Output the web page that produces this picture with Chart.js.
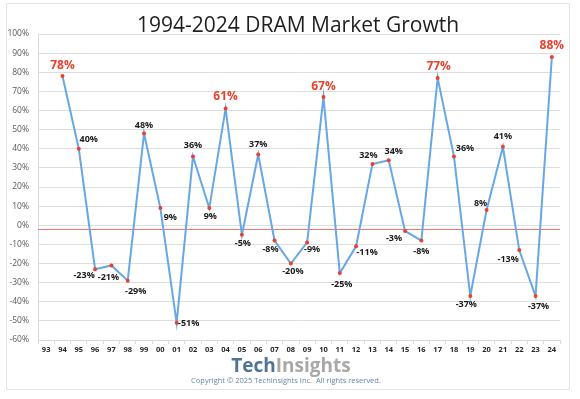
<!DOCTYPE html>
<html>
<head>
<meta charset="utf-8">
<script src="https://cdn.jsdelivr.net/npm/chart.js@4.4.1/dist/chart.umd.min.js"></script>
<style>
  html, body { margin: 0; padding: 0; background: #fff; }
  #wrap { width: 580px; height: 399px; }
</style>
</head>
<body>
<div id="wrap"><canvas id="dramChart" width="580" height="399"></canvas></div>
<script>
// year labels on the x axis (93 has no value)
var years = ["93", "94", "95", "96", "97", "98", "99", "00", "01", "02", "03", "04", "05", "06", "07", "08",
             "09", "10", "11", "12", "13", "14", "15", "16", "17", "18", "19", "20", "21", "22", "23", "24"];
// annual DRAM market growth, %
var growth = [null, 78, 40, -23, -21, -29, 48, 9, -51, 36, 9, 61, -5, 37, -8, -20,
              -9, 67, -25, -11, 32, 34, -3, -8, 77, 36, -37, 8, 41, -13, -37, 88];
var peakYears = ["94", "04", "10", "17", "24"];
var avgLine = -2;
var yTicks = [100, 90, 80, 70, 60, 50, 40, 30, 20, 10, 0, -10, -20, -30, -40, -50, -60];

// where each value label sits relative to its point (dx, dy)
var labelOffsets = [null, [0, -10], [10, -9], [-11, 6], [-3, 12], [8, 11], [0, -8], [10, 9], [12, 1],
  [0, -11], [1, 8], [0, -12], [1, 9], [0, -10], [-4, 9], [2, 8], [5, 7], [0, -11], [2, 11], [11, 6],
  [-4, -9], [5, -9], [-11, 7], [0, 11], [1, -11], [11, -8], [-4, 8], [-6, -7], [0, -10], [-11, 9],
  [3, 10], [0, -11]];

var FONT = "'Open Sans', 'Noto Sans', sans-serif";

var decorPlugin = {
  id: "decor",
  beforeDraw: function (chart) {
    var ctx = chart.ctx;
    ctx.save();
    ctx.fillStyle = "#fff";
    ctx.fillRect(0, 0, chart.width, chart.height);
    ctx.strokeStyle = "#e4e4e4";
    ctx.lineWidth = 1;
    ctx.strokeRect(6.5, 3.5, 563, 386);
    ctx.restore();
  },
  beforeDatasetsDraw: function (chart) {
    var ctx = chart.ctx;
    var y = chart.scales.y.getPixelForValue(avgLine);
    var area = chart.chartArea;
    ctx.save();
    ctx.strokeStyle = "#f07a72";
    ctx.lineWidth = 1;
    ctx.beginPath();
    ctx.moveTo(area.left, Math.round(y) + 0.5);
    ctx.lineTo(area.right, Math.round(y) + 0.5);
    ctx.stroke();
    ctx.restore();
  },
  afterDraw: function (chart) {
    var ctx = chart.ctx;
    ctx.save();
    // title
    ctx.fillStyle = "#1f1f1f";
    ctx.font = "21px " + FONT;
    ctx.textAlign = "center";
    ctx.textBaseline = "middle";
    ctx.fillText("1994-2024 DRAM Market Growth", 298, 26);

    // value labels
    var meta = chart.getDatasetMeta(0);
    meta.data.forEach(function (pt, i) {
      if (growth[i] === null) return;
      var off = labelOffsets[i];
      var peak = peakYears.indexOf(years[i]) >= 0;
      ctx.font = (peak ? "bold 12px " : "bold 9px ") + FONT;
      ctx.fillStyle = peak ? "#e8412c" : "#1a1a1a";
      ctx.fillText(growth[i] + "%", pt.x + off[0], pt.y + off[1]);
    });

    // logo + copyright
    ctx.font = "bold 19px " + FONT;
    var w1 = ctx.measureText("Tech").width;
    var w2 = ctx.measureText("Insights").width;
    var x0 = 291 - (w1 + w2) / 2;
    ctx.textAlign = "left";
    ctx.textBaseline = "alphabetic";
    ctx.fillStyle = "#4f7496";
    ctx.fillText("Tech", x0, 372);
    ctx.fillStyle = "#a8a8a8";
    ctx.fillText("Insights", x0 + w1, 372);
    ctx.font = "7.5px " + FONT;
    ctx.fillStyle = "#6487ad";
    ctx.textAlign = "center";
    ctx.textBaseline = "middle";
    ctx.fillText("Copyright \u00a9 2025 TechInsights Inc.  All rights reserved.", 286, 381);
    ctx.restore();
  }
};

var ctx = document.getElementById("dramChart").getContext("2d");
var dramChart = new Chart(ctx, {
  type: "line",
  data: {
    labels: years,
    datasets: [
      {
        label: "DRAM growth",
        data: growth,
        borderColor: "#68a7e6",
        borderWidth: 2,
        pointRadius: 2,
        pointBackgroundColor: "#e8412c",
        pointBorderWidth: 0,
        tension: 0,
      },
    ],
  },
  options: {
    responsive: false,
    animation: false,
    layout: { padding: { left: 0, right: 20, top: 34, bottom: 0 } },
    plugins: {
      legend: { display: false },
      title: { display: false },
      tooltip: { enabled: false },
    },
    scales: {
      x: {
        offset: true,
        grid: { offset: true, drawOnChartArea: false, drawTicks: true, tickLength: 4, color: "#d9d9d9" },
        border: { color: "#d9d9d9" },
        ticks: { color: "#262626", font: { size: 7.5, weight: "bold", family: FONT }, padding: 1,
                 maxRotation: 0, autoSkip: false },
        afterFit: function (scale) { scale.height = 59; },
      },
      y: {
        min: -60,
        max: 100,
        afterBuildTicks: function (scale) {
          scale.ticks = yTicks.map(function (v) { return { value: v }; });
        },
        grid: { color: "#dedede", drawTicks: false },
        border: { color: "#d9d9d9" },
        ticks: {
          color: "#595959",
          font: { size: 8.5, family: FONT },
          padding: 9,
          callback: function (v) { return v + "%"; },
        },
        afterFit: function (scale) { scale.width = 38; },
      },
    },
  },
  plugins: [decorPlugin],
});
</script>
</body>
</html>
